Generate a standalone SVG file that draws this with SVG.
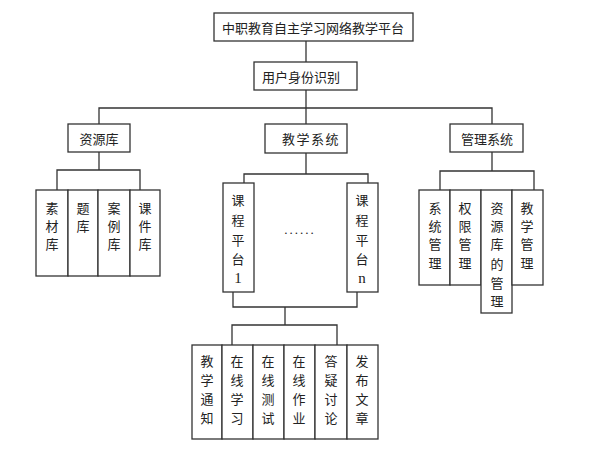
<svg xmlns="http://www.w3.org/2000/svg" width="589" height="457" viewBox="0 0 589 457">
<style>
rect{fill:#fff;stroke:#333;stroke-width:1.3}
.c line,.c polyline{stroke:#333;stroke-width:1.3;fill:none}
text{font-family:"Noto Sans CJK SC","Noto Sans",sans-serif;font-size:13px;fill:#222;text-anchor:middle;dominant-baseline:central}
.num{font-family:"Liberation Serif",serif;font-size:15px}
</style>
<rect x="0" y="0" width="589" height="457" style="fill:#fff;stroke:none"/>
<g class="c" id="connectors">
<line x1="306" y1="41" x2="306" y2="62"/>
<line x1="306" y1="90" x2="306" y2="124"/>
<polyline points="99,124 99,108 492,108 492,124"/>
<line x1="99" y1="152" x2="99" y2="170"/>
<polyline points="57,190 57,170 140,170 140,190"/>
<line x1="306" y1="153" x2="306" y2="174"/>
<polyline points="244,183 244,174 368,174 368,183"/>
<polyline points="233,292 233,307 357,307 357,292"/>
<line x1="285" y1="307" x2="285" y2="325"/>
<polyline points="232,345 232,325 337,325 337,345"/>
<line x1="492" y1="152" x2="492" y2="171"/>
<polyline points="440,190 440,171 534,171 534,190"/>
</g>
<g id="root"><rect x="214" y="13" width="199" height="28"/><text x="313" y="27">中职教育自主学习网络教学平台</text></g>
<g id="auth"><rect x="254" y="62" width="103" height="28"/><text x="301" y="76">用户身份识别</text></g>
<g id="res"><rect x="68" y="124" width="62" height="28"/><text x="99" y="138">资源库</text></g>
<g id="teach"><rect x="265" y="124" width="82" height="29"/><text x="311" y="138.5" letter-spacing="1.5">教学系统</text></g>
<g id="mgmt"><rect x="450" y="124" width="73" height="28"/><text x="487" y="138">管理系统</text></g>
<g id="res-children">
<rect x="36" y="190" width="32" height="86"/>
<rect x="68" y="190" width="30" height="86"/>
<rect x="98" y="190" width="32" height="86"/>
<rect x="130" y="190" width="30" height="86"/>
<text x="52" y="207">素</text><text x="52" y="225">材</text><text x="52" y="243">库</text>
<text x="83" y="207">题</text><text x="83" y="225">库</text>
<text x="114" y="207">案</text><text x="114" y="225">例</text><text x="114" y="243">库</text>
<text x="145" y="207">课</text><text x="145" y="225">件</text><text x="145" y="243">库</text>
</g>
<g id="course1"><rect x="223" y="183" width="31" height="109"/>
<text x="238" y="199">课</text><text x="238" y="219">程</text><text x="238" y="239">平</text><text x="238" y="258">台</text><text x="238" y="278" class="num">1</text></g>
<g id="dots"><text x="300" y="229" style="font-family:'Liberation Serif',serif;letter-spacing:2px">......</text></g>
<g id="coursen"><rect x="347" y="183" width="31" height="109"/>
<text x="362" y="199">课</text><text x="362" y="219">程</text><text x="362" y="239">平</text><text x="362" y="258">台</text><text x="362" y="278" class="num">n</text></g>
<g id="teach-children">
<rect x="192" y="345" width="30" height="94"/>
<rect x="222" y="345" width="31" height="94"/>
<rect x="253" y="345" width="31" height="94"/>
<rect x="284" y="345" width="31" height="94"/>
<rect x="315" y="345" width="32" height="94"/>
<rect x="347" y="345" width="31" height="94"/>
<text x="207" y="360">教</text><text x="207" y="379">学</text><text x="207" y="398">通</text><text x="207" y="417">知</text>
<text x="237" y="360">在</text><text x="237" y="379">线</text><text x="237" y="398">学</text><text x="237" y="417">习</text>
<text x="268" y="360">在</text><text x="268" y="379">线</text><text x="268" y="398">测</text><text x="268" y="417">试</text>
<text x="299" y="360">在</text><text x="299" y="379">线</text><text x="299" y="398">作</text><text x="299" y="417">业</text>
<text x="331" y="360">答</text><text x="331" y="379">疑</text><text x="331" y="398">讨</text><text x="331" y="417">论</text>
<text x="362" y="360">发</text><text x="362" y="379">布</text><text x="362" y="398">文</text><text x="362" y="417">章</text>
</g>
<g id="mgmt-children">
<rect x="419" y="190" width="31" height="95"/>
<rect x="450" y="190" width="31" height="95"/>
<rect x="481" y="190" width="31" height="123"/>
<rect x="512" y="190" width="31" height="95"/>
<text x="435" y="207">系</text><text x="435" y="225">统</text><text x="435" y="243">管</text><text x="435" y="262">理</text>
<text x="465" y="207">权</text><text x="465" y="225">限</text><text x="465" y="243">管</text><text x="465" y="262">理</text>
<text x="497" y="207">资</text><text x="497" y="225">源</text><text x="497" y="243">库</text><text x="497" y="263">的</text><text x="497" y="282">管</text><text x="497" y="300">理</text>
<text x="527" y="207">教</text><text x="527" y="225">学</text><text x="527" y="243">管</text><text x="527" y="262">理</text>
</g>
</svg>
